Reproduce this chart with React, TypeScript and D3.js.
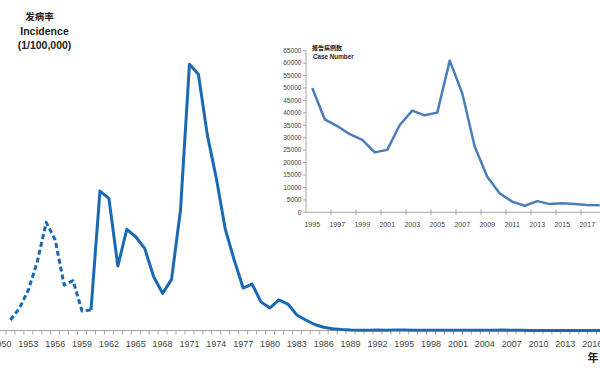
import React from "react";
import * as d3 from "d3";

// main chart: incidence (1/100,000), 1950-2018
const mainYears = d3.range(1950, 2019);
const mainLabelYears = [1950, 1953, 1956, 1959, 1962, 1965, 1968, 1971, 1974, 1977, 1980, 1983, 1986, 1989, 1992, 1995, 1998, 2001, 2004, 2007, 2010, 2013, 2016];

// dashed part (early estimates)
const earlyYears = [1951, 1952, 1953, 1954, 1955, 1956, 1957, 1958, 1959, 1960];
const earlyValues = [117, 246, 450, 764, 1201, 1005, 505, 553, 216, 228];

// solid part
const laterYears = d3.range(1960, 2019);
const laterValues = [
  228, 1548, 1467, 716, 1123, 1041, 912, 597, 413, 568,
  1338, 2958, 2847, 2170, 1693, 1127, 783, 472, 516, 316,
  250, 339, 294, 172, 117, 67, 36, 19, 10, 5,
  4, 3.5, 5, 4, 5, 4.5, 3.5, 3, 2.5, 2.4,
  2, 2, 2.8, 3.2, 3, 3, 4.6, 3.6, 2, 1.1,
  0.56, 0.3, 0.18, 0.3, 0.2, 0.23, 0.23, 0.2, 0.19,
];

// inset: reported case numbers 1995-2018
const insetYears = d3.range(1995, 2019);
const caseNumbers = [
  50000, 37400, 34700, 31400, 29100, 24100, 25100, 35100, 40900, 39000,
  40100, 61000, 47900, 26400, 14300, 7600, 4300, 2650, 4500, 3300,
  3600, 3300, 2950, 2800,
];
const insetYTicks = [0, 5000, 10000, 15000, 20000, 25000, 30000, 35000, 40000, 45000, 50000, 55000, 60000, 65000];
const insetLabelYears = [1995, 1997, 1999, 2001, 2003, 2005, 2007, 2009, 2011, 2013, 2015, 2017];

const font = "'Liberation Sans', Arial, sans-serif";
const cjk = "'Noto Sans CJK SC', sans-serif";

export default function App() {
  const width = 600;
  const height = 372;

  // main scales
  const step = 8.95;
  const x0 = 1.5 - step / 2;
  const xMain = d3.scaleBand<number>().domain(mainYears).range([x0, x0 + step * mainYears.length]);
  const cx = (yr: number) => (xMain(yr) as number) + xMain.bandwidth() / 2;
  const yMain = d3.scaleLinear().domain([0, 3000]).range([330.5, 60.4]);
  const baseY = yMain(0);

  const earlyPath = d3
    .line<[number, number]>()
    .x((d) => cx(d[0]))
    .y((d) => yMain(d[1]))(earlyYears.map((yr, i) => [yr, earlyValues[i]]));
  const laterPath = d3
    .line<[number, number]>()
    .x((d) => cx(d[0]))
    .y((d) => yMain(d[1]))(laterYears.map((yr, i) => [yr, laterValues[i]]));

  // inset scales
  const xInset = d3.scaleBand<number>().domain(insetYears).range([306, 306 + 12.5 * insetYears.length]);
  const icx = (yr: number) => (xInset(yr) as number) + xInset.bandwidth() / 2;
  const yInset = d3.scaleLinear().domain([0, 65000]).range([212.3, 50.7]);
  const insetPath = d3
    .line<[number, number]>()
    .x((d) => icx(d[0]))
    .y((d) => yInset(d[1]))(insetYears.map((yr, i) => [yr, caseNumbers[i]]));
  const insetBottom = yInset(0);

  return (
    <svg
      width={width}
      height={height}
      style={{ position: "fixed", left: 0, top: 0, background: "#fff" }}
    >
      {/* titles */}
      <text x={39.5} y={20} textAnchor="middle" fontFamily={cjk} fontWeight="bold" fontSize={9.5} fill="#222">
        发病率
      </text>
      <text x={44.5} y={35} textAnchor="middle" fontFamily={font} fontWeight="bold" fontSize={10.5} fill="#222">
        Incidence
      </text>
      <text x={44.5} y={49} textAnchor="middle" fontFamily={font} fontWeight="bold" fontSize={10.5} fill="#222">
        (1/100,000)
      </text>

      {/* main x axis */}
      <line x1={0} x2={width} y1={baseY} y2={baseY} stroke="#a6a6a6" strokeWidth={1} />
      {mainYears.map((yr) => (
        <line
          key={yr}
          x1={xMain(yr) as number}
          x2={xMain(yr) as number}
          y1={baseY}
          y2={baseY + 4}
          stroke="#a6a6a6"
          strokeWidth={1}
        />
      ))}
      {mainLabelYears.map((yr) => (
        <text key={yr} x={cx(yr)} y={347} textAnchor="middle" fontFamily={font} fontSize={9} fill="#444">
          {yr}
        </text>
      ))}
      <text x={593} y={362} textAnchor="middle" fontFamily={cjk} fontWeight="bold" fontSize={11} fill="#222">
        年
      </text>

      {/* main lines */}
      <path d={earlyPath || ""} fill="none" stroke="#1a69b3" strokeWidth={3} strokeDasharray="5,3" strokeLinejoin="round" />
      <path d={laterPath || ""} fill="none" stroke="#1a69b3" strokeWidth={3} strokeLinejoin="round" />

      {/* inset */}
      <text x={327} y={49.5} textAnchor="middle" fontFamily={cjk} fontWeight="bold" fontSize={6} fill="#222">
        报告病例数
      </text>
      <text x={313} y={59} fontFamily={font} fontWeight="bold" fontSize={6.3} fill="#222">
        Case Number
      </text>
      <line x1={306} x2={306} y1={yInset(65000)} y2={insetBottom} stroke="#a6a6a6" strokeWidth={1} />
      <line x1={306} x2={width} y1={insetBottom} y2={insetBottom} stroke="#a6a6a6" strokeWidth={1} />
      {insetYTicks.map((t) => (
        <g key={t}>
          <line x1={303} x2={306} y1={yInset(t)} y2={yInset(t)} stroke="#a6a6a6" strokeWidth={1} />
          <text x={301.5} y={yInset(t) + 2.3} textAnchor="end" fontFamily={font} fontSize={6.6} fill="#444">
            {t}
          </text>
        </g>
      ))}
      {insetLabelYears.map((yr) => {
        const tx = (xInset(yr) as number) + 2 * xInset.bandwidth();
        return (
          <g key={yr}>
            <line x1={tx} x2={tx} y1={insetBottom - 3} y2={insetBottom + 3} stroke="#a6a6a6" strokeWidth={1} />
            <text x={icx(yr)} y={227} textAnchor="middle" fontFamily={font} fontSize={7} fill="#444">
              {yr}
            </text>
          </g>
        );
      })}
      <path d={insetPath || ""} fill="none" stroke="#4a7ebb" strokeWidth={2.5} strokeLinejoin="round" />
    </svg>
  );
}
